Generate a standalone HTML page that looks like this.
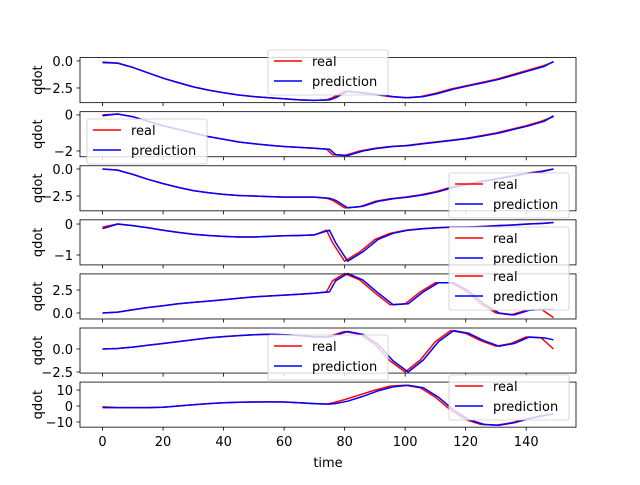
<!DOCTYPE html>
<html><head><meta charset="utf-8"><style>
body{margin:0;background:#fff}
svg{font-family:"DejaVu Sans","Liberation Sans",sans-serif}
</style></head><body>
<svg id="c" width="640" height="480" viewBox="0 0 640 480"></svg>
<script>
const xs=[0,5,10,15,20,25,30,35,40,45,50,55,60,65,70,74,76,80,85,90,95,100,105,110,115,120,125,130,135,140,145,149];
const xsPred=[0,5,10,15,20,25,30,35,40,45,50,55,60,65,70,75,77,81,86,91,96,101,106,111,116,121,126,131,136,141,146,149];
const real1=[-0.1,-0.2,-0.6,-1.1,-1.6,-2.0,-2.4,-2.7,-2.95,-3.15,-3.3,-3.4,-3.5,-3.6,-3.65,-3.6,-3.4,-2.8,-2.95,-3.1,-3.3,-3.4,-3.3,-3.0,-2.6,-2.3,-2.0,-1.7,-1.3,-0.9,-0.5,-0.1];
const pred1=[-0.15,-0.2,-0.6,-1.1,-1.6,-2.0,-2.4,-2.7,-2.95,-3.15,-3.3,-3.4,-3.5,-3.6,-3.65,-3.6,-3.4,-2.8,-2.95,-3.1,-3.3,-3.4,-3.3,-3.0,-2.6,-2.3,-2.0,-1.7,-1.3,-0.9,-0.5,-0.05];
const real2=[0,0.05,-0.1,-0.35,-0.6,-0.8,-1.0,-1.2,-1.35,-1.5,-1.6,-1.68,-1.75,-1.8,-1.85,-1.9,-2.2,-2.25,-2.0,-1.85,-1.75,-1.7,-1.6,-1.5,-1.4,-1.3,-1.15,-1.0,-0.8,-0.6,-0.35,-0.1];
const pred2=[-0.05,0.05,-0.1,-0.35,-0.6,-0.8,-1.0,-1.2,-1.35,-1.5,-1.6,-1.68,-1.75,-1.8,-1.85,-1.9,-2.2,-2.25,-2.0,-1.85,-1.75,-1.7,-1.6,-1.5,-1.4,-1.3,-1.15,-1.0,-0.8,-0.6,-0.35,-0.05];
const real3=[0,-0.1,-0.5,-0.95,-1.35,-1.7,-2.0,-2.2,-2.35,-2.45,-2.5,-2.55,-2.6,-2.6,-2.6,-2.7,-2.9,-3.6,-3.5,-3.0,-2.75,-2.6,-2.4,-2.1,-1.7,-1.4,-1.15,-0.9,-0.65,-0.4,-0.2,0];
const pred3=[0,-0.1,-0.5,-0.95,-1.35,-1.7,-2.0,-2.2,-2.35,-2.45,-2.5,-2.55,-2.6,-2.6,-2.6,-2.7,-2.9,-3.6,-3.45,-3.0,-2.75,-2.6,-2.4,-2.1,-1.7,-1.4,-1.15,-0.9,-0.65,-0.4,-0.2,0];
const real4=[-0.1,0,-0.05,-0.12,-0.2,-0.27,-0.33,-0.37,-0.4,-0.42,-0.42,-0.4,-0.38,-0.37,-0.35,-0.2,-0.6,-1.2,-0.9,-0.5,-0.3,-0.2,-0.15,-0.12,-0.1,-0.1,-0.08,-0.05,-0.03,0,0.02,0.05];
const pred4=[-0.15,0,-0.05,-0.12,-0.2,-0.27,-0.33,-0.37,-0.4,-0.42,-0.42,-0.4,-0.38,-0.37,-0.35,-0.2,-0.6,-1.2,-0.9,-0.5,-0.3,-0.2,-0.15,-0.12,-0.1,-0.1,-0.08,-0.05,-0.03,0,0.02,0.05];
const real5=[0,0.1,0.35,0.6,0.8,1.0,1.15,1.3,1.45,1.6,1.75,1.85,1.95,2.05,2.15,2.3,3.5,4.3,3.6,2.2,0.9,1.0,2.3,3.3,3.3,2.4,1.0,0.0,-0.2,0.3,0.4,-0.5];
const pred5=[0,0.1,0.35,0.6,0.8,1.0,1.15,1.3,1.45,1.6,1.75,1.85,1.95,2.05,2.15,2.3,3.5,4.3,3.6,2.2,0.9,1.0,2.3,3.3,3.3,2.4,1.0,0.0,-0.2,0.3,0.4,0.4];
const real6=[0,0.05,0.2,0.4,0.6,0.8,1.0,1.2,1.35,1.45,1.55,1.6,1.55,1.45,1.3,1.3,1.5,1.9,1.6,0.5,-1.3,-2.5,-1.2,0.8,2.0,1.7,0.9,0.3,0.6,1.3,1.2,0];
const pred6=[0,0.05,0.2,0.4,0.6,0.8,1.0,1.2,1.35,1.45,1.55,1.6,1.55,1.45,1.3,1.3,1.5,1.9,1.6,0.5,-1.3,-2.5,-1.2,0.8,2.0,1.7,0.9,0.3,0.6,1.3,1.2,1.0];
const real7=[-0.5,-1,-1,-1,-0.8,0,0.8,1.5,2,2.3,2.5,2.6,2.5,2,1.5,1.2,2,4,7,10,12.5,13,11.5,5.5,-2.5,-8.5,-11.5,-12,-10.5,-8,-6,-5];
const pred7=[-1,-1,-1,-1,-0.8,0,0.8,1.5,2,2.3,2.5,2.6,2.5,2,1.5,1.2,1.6,3,6,9.5,12,13,11.5,5.5,-2.5,-8.5,-11.5,-12,-10.5,-8,-6,-5];
const xTicks=[0,20,40,60,80,100,120,140];
const yTicks=[[0,-2.5],[0,-2],[0,-2.5],[0,-1],[2.5,0],[0,-2.5],[10,0,-10]];
const yTickLabels=[["0.0","−2.5"],["0","−2"],["0.0","−2.5"],["0","−1"],["2.5","0.0"],["0.0","−2.5"],["10","0","−10"]];
const ylims=[[0.31,-3.86],[0.18,-2.32],[0.3,-3.87],[0.135,-1.32],[4.25,-0.65],[2.28,-2.62],[15,-13.25]];
const reals=[real1,real2,real3,real4,real5,real6,real7];
const preds=[pred1,pred2,pred3,pred4,pred5,pred6,pred7];
const legendPos=[[268,50],[87,119],[449,173],[449,227],[449,265],[268,335],[449,375]];

const svg=document.getElementById('c');const NS='http://www.w3.org/2000/svg';
function el(t,a,p){const e=document.createElementNS(NS,t);for(const k in a)e.setAttribute(k,a[k]);(p||svg).appendChild(e);return e;}
const L=80,R=576,H=45.07,STEP=54.08,T0=57.6,FS=13;
const xMin=-7.45,xMax=156.45;
const sx=v=>L+(v-xMin)/(xMax-xMin)*(R-L);
for(let i=0;i<7;i++){
  const top=T0+i*STEP,bot=top+H,[y0,y1]=ylims[i];
  const sy=v=>top+(y0-v)/(y0-y1)*H;
  const g=el('g',{});
  
  
  const mk=(xa,ya,col,nm)=>{const p=el('path',{d:xa.map((x,j)=>(j?'L':'M')+sx(x).toFixed(1)+' '+sy(ya[j]).toFixed(1)).join(''),fill:'none',stroke:col,'stroke-width':1.5,'stroke-linejoin':'round'},g);
    };
  mk(xs,reals[i],'#ff0000','real-line');
  mk(xsPred,preds[i],'#0000ff','prediction-line');
  const fr=el('rect',{x:L,y:top,width:R-L,height:H,fill:'none',stroke:'#000','stroke-width':0.8},g);
  
  xTicks.forEach(t=>{el('line',{x1:sx(t),x2:sx(t),y1:bot,y2:bot+3.5,stroke:'#000','stroke-width':0.8},g);
    if(i==6){const tx=el('text',{x:sx(t),y:bot+19,'font-size':FS,'text-anchor':'middle'},g);tx.textContent=t;
      }});
  yTicks[i].forEach((t,k)=>{const y=sy(t);el('line',{x1:L-3.5,x2:L,y1:y,y2:y,stroke:'#000','stroke-width':0.8},g);
    const tx=el('text',{x:L-7,y:y+4.8,'font-size':FS,'text-anchor':'end'},g);tx.textContent=yTickLabels[i][k];
    });
  const yl=el('text',{x:0,y:0,'font-size':FS,'text-anchor':'middle',transform:`translate(42,${top+H/2}) rotate(-90)`},g);yl.textContent='qdot';
  
  const [lx,ly]=legendPos[i];
  const lg=el('g',{},svg);
  
  el('rect',{x:lx,y:ly,width:120,height:45,rx:2,fill:'#fff','fill-opacity':0.8,stroke:'#ccc','stroke-width':0.8},lg);
  [['real','#ff0000',11],['prediction','#0000ff',31]].forEach(([n,c,dy])=>{
    el('line',{x1:lx+6,x2:lx+34,y1:ly+dy,y2:ly+dy,stroke:c,'stroke-width':1.5},lg);
    const t=el('text',{x:lx+44,y:ly+dy+4.8,'font-size':FS},lg);t.textContent=n;
    });
}
const xt=el('text',{x:328,y:467,'font-size':FS,'text-anchor':'middle'});xt.textContent='time';


</script>
</body></html>
